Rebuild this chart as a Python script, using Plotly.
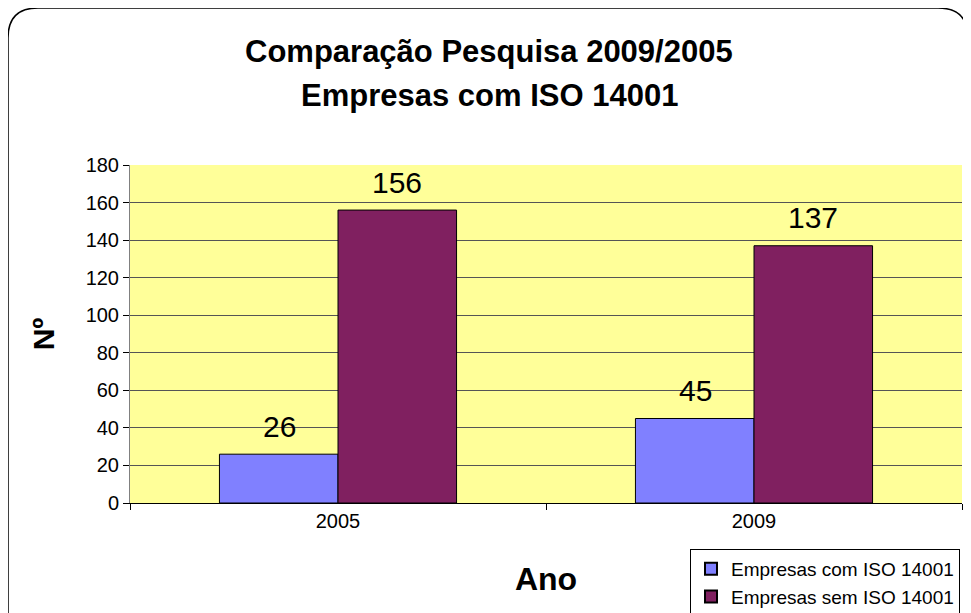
import plotly.graph_objects as go

anos = ["2005", "2009"]
com_iso = [26, 45]
sem_iso = [156, 137]
y_ticks = [0, 20, 40, 60, 80, 100, 120, 140, 160, 180]

# page body has an 8px margin, so work in screen coords minus 8
OFF = 8
W, H = 971, 613
L, R, T, B = 130 - OFF, 962 - OFF, 165 - OFF, 503 - OFF


def px(x):
    return (x - OFF - L) / (R - L)


def py(y):
    return (B - (y - OFF)) / (B - T)


fnt = "Arial, Liberation Sans, sans-serif"

fig = go.Figure()
fig.add_trace(go.Bar(
    x=anos, y=com_iso, name="Empresas com ISO 14001",
    marker=dict(color="#8080FF", line=dict(color="#000000", width=1)),
))
fig.add_trace(go.Bar(
    x=anos, y=sem_iso, name="Empresas sem ISO 14001",
    marker=dict(color="#802060", line=dict(color="#000000", width=1)),
))

# value labels above each bar (x as category index, numeric-looking names
# would otherwise be read as indices)
annotations = []
for vals, shift in ((com_iso, -59), (sem_iso, 59)):
    for i, v in enumerate(vals):
        annotations.append(dict(x=i, y=v, xref="x", yref="y", text=str(v),
                                showarrow=False, xshift=shift, yshift=28,
                                yanchor="middle", font=dict(size=30)))

annotations += [
    dict(x=px(489), y=py(52), xref="paper", yref="paper", showarrow=False,
         text="<b>Comparação Pesquisa 2009/2005</b>", font=dict(size=31),
         yanchor="middle"),
    dict(x=px(489), y=py(96), xref="paper", yref="paper", showarrow=False,
         text="<b>Empresas com ISO 14001</b>", font=dict(size=31),
         yanchor="middle"),
]

# rounded outer frame (screen coords)
r = 30
frame = (f"M {px(8)},{py(640)} L {px(8)},{py(8 + r)} "
         f"Q {px(8)},{py(8)} {px(8 + r)},{py(8)} "
         f"L {px(968 - r)},{py(8)} Q {px(968)},{py(8)} {px(968)},{py(8 + r)} "
         f"L {px(968)},{py(640)}")

fig.update_layout(
    width=W, height=H,
    margin=dict(l=L, r=W - R, t=T, b=H - B, autoexpand=False),
    paper_bgcolor="white", plot_bgcolor="#FFFF99",
    font=dict(family=fnt, color="#000000", size=20),
    barmode="group", bargap=0.43, bargroupgap=0,
    xaxis=dict(type="category", showline=True, linecolor="#000000", linewidth=1,
               ticks="outside", tickson="boundaries", ticklen=6, tickcolor="#000000",
               tickfont=dict(size=20), showgrid=False,
               title=dict(text="<b>Ano</b>", font=dict(size=32), standoff=36)),
    yaxis=dict(range=[0, 180], tickvals=y_ticks, showline=True, linecolor="#808080",
               linewidth=1, ticks="outside", ticklen=6, tickcolor="#000000",
               showgrid=True, gridcolor="#555555", gridwidth=1, zeroline=False,
               tickfont=dict(size=20),
               title=dict(text="<b>Nº</b>", font=dict(size=30), standoff=22)),
    legend=dict(x=px(690), xanchor="left", y=py(549), yanchor="top",
                bgcolor="white", bordercolor="#000000", borderwidth=1,
                font=dict(size=19), tracegroupgap=0, itemsizing="constant",
                itemwidth=30, traceorder="normal"),
    annotations=annotations,
    shapes=[dict(type="path", path=frame, xref="paper", yref="paper",
                 line=dict(color="#000000", width=1.5), layer="above")],
    showlegend=True,
)

fig.write_html("out.html")
